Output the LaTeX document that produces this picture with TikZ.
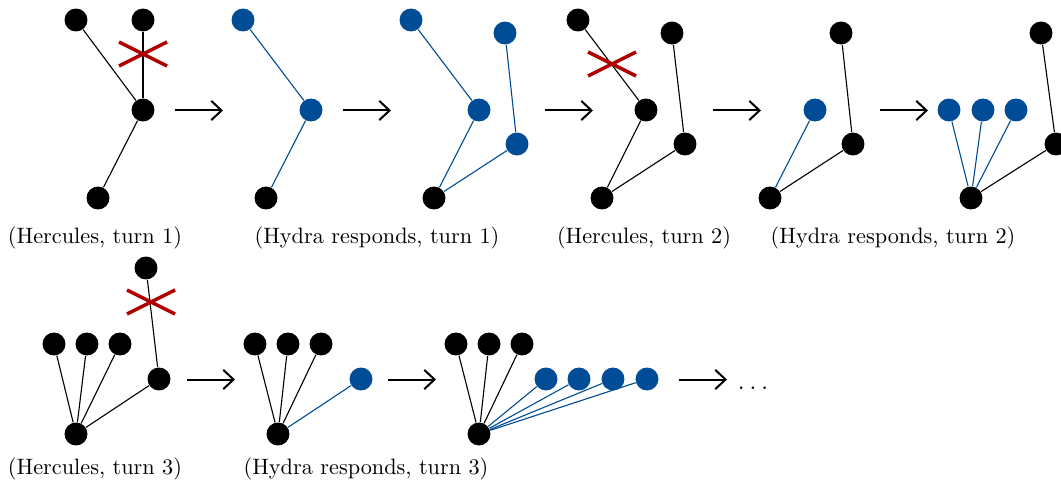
\documentclass[tikz,border=0pt]{standalone}
\usetikzlibrary{arrows.meta}
\definecolor{hblue}{RGB}{0,76,151}
\definecolor{hred}{RGB}{175,0,0}
\tikzset{
  bn/.style={circle,fill=black,inner sep=0pt,minimum size=10.3pt},
  hn/.style={circle,fill=hblue,inner sep=0pt,minimum size=10.3pt},
  ed/.style={line width=0.5pt,black},
  be/.style={line width=0.5pt,hblue},
  cut/.style={line width=1.6pt,hred},
  bigarr/.style={line width=0.9pt,-{Straight Barb[length=4.6pt,width=8.6pt,line width=0.9pt]}},
  lab/.style={inner sep=0pt}
}
\begin{document}
\begin{tikzpicture}[x=0.4492pt,y=-0.4492pt]
\useasboundingbox (0,0) rectangle (1061,484);
% Tree 1
\node[bn] (a1) at (76,20) {};
\node[bn] (a2) at (143,20) {};
\node[bn] (a3) at (143,110) {};
\node[bn] (a4) at (98,198) {};
\draw[ed] (a1) -- (a3);
\draw[ed] (a2) -- (a3);
\draw[ed] (a3) -- (a4);
\coordinate (x1) at (143,54);
\draw[cut] ([shift={(-24,-12)}]x1) -- ([shift={(24,12)}]x1);
\draw[cut] ([shift={(-24,12)}]x1) -- ([shift={(24,-12)}]x1);
\coordinate (r1s) at (175,110.5); \coordinate (r1e) at (223,110.5);
\draw[bigarr] (r1s) -- (r1e);
% Tree 2
\node[hn] (b1) at (243,20) {};
\node[hn] (b2) at (311,110) {};
\node[bn] (b3) at (266,198) {};
\draw[be] (b1) -- (b2);
\draw[be] (b2) -- (b3);
\coordinate (r2s) at (343,110.5); \coordinate (r2e) at (391,110.5);
\draw[bigarr] (r2s) -- (r2e);
% Tree 3
\node[hn] (c1) at (411,20) {};
\node[hn] (c2) at (505,33) {};
\node[hn] (c3) at (479,110) {};
\node[hn] (c4) at (517,144) {};
\node[bn] (c5) at (434,198) {};
\draw[be] (c1) -- (c3);
\draw[be] (c2) -- (c4);
\draw[be] (c3) -- (c5);
\draw[be] (c4) -- (c5);
\coordinate (r3s) at (545,110.5); \coordinate (r3e) at (593,110.5);
\draw[bigarr] (r3s) -- (r3e);
% Tree 4
\node[bn] (d1) at (578,20) {};
\node[bn] (d2) at (672,33) {};
\node[bn] (d3) at (646,110) {};
\node[bn] (d4) at (685,144) {};
\node[bn] (d5) at (602,198) {};
\draw[ed] (d1) -- (d3);
\draw[ed] (d2) -- (d4);
\draw[ed] (d3) -- (d5);
\draw[ed] (d4) -- (d5);
\coordinate (x2) at (612,64);
\draw[cut] ([shift={(-24,-12)}]x2) -- ([shift={(24,12)}]x2);
\draw[cut] ([shift={(-24,12)}]x2) -- ([shift={(24,-12)}]x2);
\coordinate (r4s) at (713,110.5); \coordinate (r4e) at (761,110.5);
\draw[bigarr] (r4s) -- (r4e);
% Tree 5
\node[hn] (e1) at (815,110) {};
\node[bn] (e2) at (841,33) {};
\node[bn] (e3) at (853,144) {};
\node[bn] (e4) at (770,198) {};
\draw[be] (e1) -- (e4);
\draw[ed] (e2) -- (e3);
\draw[ed] (e3) -- (e4);
\coordinate (r5s) at (880,110.5); \coordinate (r5e) at (928,110.5);
\draw[bigarr] (r5s) -- (r5e);
% Tree 6
\node[hn] (f1) at (949,110) {};
\node[hn] (f2) at (983,110) {};
\node[hn] (f3) at (1016,110) {};
\node[bn] (f4) at (1041,33) {};
\node[bn] (f5) at (1056,144) {};
\node[bn] (f6) at (971,198) {};
\draw[be] (f1) -- (f6);
\draw[be] (f2) -- (f6);
\draw[be] (f3) -- (f6);
\draw[ed] (f4) -- (f5);
\draw[ed] (f5) -- (f6);
% Labels top
\node[lab] (l1) at (95,238) {(Hercules, turn 1)};
\node[lab] (l2) at (377,238) {(Hydra responds, turn 1)};
\node[lab] (l3) at (644,238) {(Hercules, turn 2)};
\node[lab] (l4) at (893,238) {(Hydra responds, turn 2)};
% Tree 7
\node[bn] (g1) at (54,344) {};
\node[bn] (g2) at (87,344) {};
\node[bn] (g3) at (120,344) {};
\node[bn] (g4) at (146,268) {};
\node[bn] (g5) at (159,379) {};
\node[bn] (g6) at (76,434) {};
\draw[ed] (g1) -- (g6);
\draw[ed] (g2) -- (g6);
\draw[ed] (g3) -- (g6);
\draw[ed] (g4) -- (g5);
\draw[ed] (g5) -- (g6);
\coordinate (x3) at (151,302);
\draw[cut] ([shift={(-24,-12)}]x3) -- ([shift={(24,12)}]x3);
\draw[cut] ([shift={(-24,12)}]x3) -- ([shift={(24,-12)}]x3);
\coordinate (r6s) at (187,379.5); \coordinate (r6e) at (235,379.5);
\draw[bigarr] (r6s) -- (r6e);
% Tree 8
\node[bn] (h1) at (255,344) {};
\node[bn] (h2) at (288,344) {};
\node[bn] (h3) at (321,344) {};
\node[hn] (h4) at (361,379) {};
\node[bn] (h5) at (278,434) {};
\draw[ed] (h1) -- (h5);
\draw[ed] (h2) -- (h5);
\draw[ed] (h3) -- (h5);
\draw[be] (h4) -- (h5);
\coordinate (r7s) at (388,379.5); \coordinate (r7e) at (436,379.5);
\draw[bigarr] (r7s) -- (r7e);
% Tree 9
\node[bn] (k1) at (456,344) {};
\node[bn] (k2) at (489,344) {};
\node[bn] (k3) at (522,344) {};
\node[hn] (k4) at (546,379) {};
\node[hn] (k5) at (579,379) {};
\node[hn] (k6) at (613,379) {};
\node[hn] (k7) at (647,379) {};
\node[bn] (k8) at (479,434) {};
\draw[ed] (k1) -- (k8);
\draw[ed] (k2) -- (k8);
\draw[ed] (k3) -- (k8);
\draw[be] (k4) -- (k8);
\draw[be] (k5) -- (k8);
\draw[be] (k6) -- (k8);
\draw[be] (k7) -- (k8);
\coordinate (r8s) at (679,379.5); \coordinate (r8e) at (727,379.5);
\draw[bigarr] (r8s) -- (r8e);
\node[inner sep=0pt,anchor=base,font=\large] (dots) at (753,389.5) {$\ldots$};
% Labels bottom
\node[lab] (l5) at (95,469) {(Hercules, turn 3)};
\node[lab] (l6) at (366,469) {(Hydra responds, turn 3)};
\end{tikzpicture}
\end{document}
